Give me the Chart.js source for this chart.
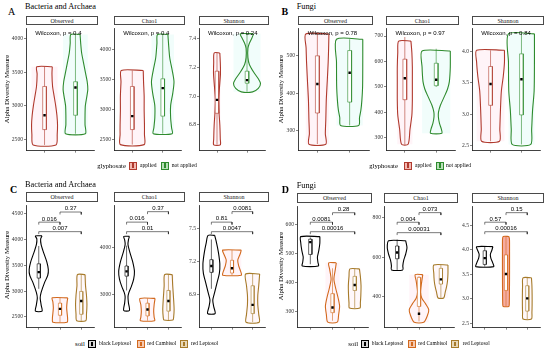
<!DOCTYPE html>
<html><head><meta charset="utf-8">
<script src="https://cdn.jsdelivr.net/npm/chart.js@4.4.1/dist/chart.umd.min.js"></script>
<style>
html,body{margin:0;padding:0;background:#fff;}
body{width:550px;height:351px;position:relative;overflow:hidden;font-family:"Liberation Serif","DejaVu Serif",serif;color:#000;}
.t{position:absolute;white-space:nowrap;line-height:1;transform:translateY(-50%);}
.strip{position:absolute;box-sizing:border-box;border:1px solid #4a4a4a;background:#fff;font-size:6px;line-height:1;display:flex;align-items:center;justify-content:center;color:#1a1a1a;}
.key{position:absolute;box-sizing:border-box;width:8px;height:8px;border:1px solid;transform:translateY(-50%);}
.key i{position:absolute;left:2.2px;top:0.8px;width:1.8px;height:4.4px;box-sizing:border-box;border:0.6px solid;background:#fff;}
.ytitle{position:absolute;white-space:nowrap;line-height:1;font-size:6.8px;transform:translate(-50%,-50%) rotate(-90deg);}
canvas{position:absolute;}
</style></head><body>
<script>
// ===== categories =====
const groupsGly = ['applied', 'not applied'];
const groupsSoil = ['black Leptosol', 'red Cambisol', 'red Leptosol'];
const facetNames = ['Observed', 'Chao1', 'Shannon'];
const pairs = [[1, 2], [2, 3], [1, 3]];

// ===== Panel A : Bacteria and Archaea, glyphosate =====
// violin profile: values (top->bottom) and half widths (category units); box: [low whisker, q1, q3, high whisker, mean]
const A_obs_ticks = [2500, 3000, 3500, 4000];
const A_obs_lim = [2329, 4153];
const A_obs_vy = [[3581,3471,3286,3143,3000,2857,2714,2571,2414],[4061,3929,3786,3643,3500,3357,3243,3143,3000,2857,2714,2581]];
const A_obs_vw = [[0.25,0.24,0.26,0.31,0.36,0.40,0.42,0.41,0.37],[0.15,0.17,0.20,0.26,0.32,0.38,0.40,0.37,0.32,0.31,0.31,0.32]];
const A_obs_box = [[2414,2643,3286,3581,2857],[2581,2857,3357,4061,3271]];

const A_chao_ticks = [2500, 3000, 3500, 4000];
const A_chao_lim = [2307, 4360];
const A_chao_vy = [[3653,3465,3223,2982,2741,2580,2408],[4257,4108,3867,3658,3465,3272,3063,2854,2693,2592]];
const A_chao_vw = [[0.36,0.37,0.39,0.39,0.40,0.40,0.39],[0.17,0.19,0.23,0.31,0.37,0.33,0.26,0.26,0.29,0.31]];
const A_chao_box = [[2408,2661,3384,3653,2886],[2592,2886,3513,4257,3357]];

const A_shan_ticks = [6.8, 7.0, 7.2, 7.4];
const A_shan_tickLabels = ['6.8', '7.0', '7.2', '7.4'];
const A_shan_lim = [6.62, 7.471];
const A_shan_vy = [[7.3,7.233,7.155,7.067,6.98,6.9,6.8,6.7,6.66],[7.433,7.4,7.367,7.333,7.267,7.22,7.167,7.12,7.087,7.053,7.029]];
const A_shan_vw = [[0.094,0.11,0.116,0.085,0.053,0.063,0.094,0.11,0.11],[0.22,0.157,0.079,0.031,0.031,0.079,0.22,0.377,0.45,0.377,0.189]];
const A_shan_box = [[6.66,6.88,7.173,7.3,6.973],[7.029,7.089,7.173,7.433,7.111]];

const A_pvals = ['0.4', '0.4', '0.24'];
const A_wilY = [4081, 4280, 7.438];

// ===== Panel B : Fungi, glyphosate =====
const B_obs_ticks = [300, 400, 500];
const B_obs_lim = [247, 572];
const B_obs_vy = [[557,520,482,431,380,330,292,264],[543,482,418,380,355,335,314]];
const B_obs_vw = [[0.358,0.349,0.335,0.306,0.276,0.262,0.247,0.262],[0.407,0.407,0.402,0.378,0.349,0.306,0.282]];
const B_obs_box = [[264,347,499,557,424],[314,376,513,543,454]];

const B_chao_ticks = [300, 400, 500, 600, 700];
const B_chao_lim = [250, 730];
const B_chao_vy = [[680,634,578,521,447,390,334,275],[641,578,521,491,461,428,402,383,357,334,318]];
const B_chao_vw = [[0.195,0.225,0.24,0.24,0.24,0.225,0.165,0.105],[0.45,0.45,0.42,0.36,0.255,0.135,0.075,0.069,0.105,0.165,0.18]];
const B_chao_box = [[275,450,609,696,534],[500,505,593,650,528]];

const B_shan_ticks = [2.5, 3.0, 3.5, 4.0];
const B_shan_tickLabels = ['2.5', '3.0', '3.5', '4.0'];
const B_shan_lim = [2.421, 4.364];
const B_shan_vy = [[4.015,3.823,3.596,3.368,3.065,2.762,2.57],[4.277,3.823,3.368,3.065,2.762,2.52]];
const B_shan_vw = [[0.45,0.45,0.41,0.35,0.32,0.30,0.29],[0.42,0.42,0.41,0.36,0.33,0.30]];
const B_shan_box = [[2.57,3.141,3.758,4.015,3.479],[2.52,2.989,3.959,4.277,3.555]];

const B_pvals = ['0.78', '0.97', '0.84'];
const B_wilY = [560, 711, 4.288];

// ===== Panel C : Bacteria and Archaea, soil =====
const C_obs_ticks = [2500, 3000, 3500, 4000, 4500];
const C_obs_lim = [2292, 4659];
const C_obs_vy = [[4068,4008,3897,3749,3565,3417,3306,3159,2974,2864,2734,2611],[2869,2790,2679,2568,2476,2397],[3319,3103,2919,2734,2550,2426]];
const C_obs_vw = [[0.156,0.089,0.112,0.223,0.379,0.45,0.424,0.268,0.112,0.067,0.112,0.156],[0.366,0.335,0.313,0.335,0.357,0.335],[0.179,0.201,0.246,0.268,0.246,0.214]];
const C_obs_box = [[3043,3251,3528,3873,3367],[2397,2531,2766,2869,2655],[2426,2550,2993,3319,2808]];
const C_obs_brY = [4334, 4530, 4150];
const C_obs_brP = ['0.016', '0.37', '0.007'];

const C_chao_ticks = [3000, 4000];
const C_chao_lim = [2286, 4904];
const C_chao_vy = [[4239,4163,4067,3898,3694,3490,3327,3163,3041,2945,2816,2653],[2912,2776,2633,2510,2435],[3422,3184,2878,2674,2510,2449]];
const C_chao_vw = [[0.136,0.09,0.068,0.158,0.294,0.376,0.339,0.226,0.113,0.068,0.09,0.136],[0.362,0.317,0.294,0.317,0.339],[0.181,0.204,0.249,0.271,0.249,0.213]];
const C_chao_box = [[3082,3388,3606,4041,3490],[2435,2537,2810,2912,2674],[2449,2639,3082,3422,2857]];
const C_chao_brY = [4545, 4769, 4341];
const C_chao_brP = ['0.016', '0.37', '0.01'];

const C_shan_ticks = [6.9, 7.2, 7.5];
const C_shan_tickLabels = ['6.9', '7.2', '7.5'];
const C_shan_lim = [6.596, 7.711];
const C_shan_vy = [[7.437,7.370,7.283,7.178,7.091,7.004,6.917,6.848,6.787,6.724],[7.303,7.265,7.213,7.161,7.109,7.074],[7.085,6.978,6.891,6.804,6.717,6.645]];
const C_shan_vw = [[0.159,0.25,0.341,0.41,0.387,0.273,0.159,0.068,0.114,0.182],[0.45,0.39,0.28,0.32,0.42,0.45],[0.341,0.296,0.25,0.25,0.296,0.319]];
const C_shan_box = [[6.95,7.1,7.216,7.40,7.158],[7.074,7.094,7.21,7.303,7.137],[6.645,6.724,6.978,7.085,6.804]];
const C_shan_brY = [7.558, 7.654, 7.471];
const C_shan_brP = ['0.81', '0.0081', '0.0047'];

// ===== Panel D : Fungi, soil =====
const D_obs_ticks = [300, 400, 500, 600];
const D_obs_lim = [243, 664];
const D_obs_vy = [[559,537,511,488,471,457],[468,445,411,378,345,317,289,262],[447,421,388,355,329,311]];
const D_obs_vw = [[0.43,0.43,0.384,0.32,0.341,0.363],[0.171,0.128,0.064,0.149,0.256,0.32,0.277,0.213],[0.213,0.256,0.286,0.277,0.256,0.235]];
const D_obs_box = [[463,497,550,556,540],[267,295,361,449,313],[311,372,421,447,391]];
const D_obs_brY = [609, 642, 576];
const D_obs_brP = ['0.0081', '0.28', '0.00016'];

const D_chao_ticks = [400, 600, 800];
const D_chao_lim = [241, 859];
const D_chao_vy = [[684,649,615,585,556,535],[511,479,422,391,362,333,304,268],[560,518,479,450,420,392]];
const D_chao_vw = [[0.39,0.45,0.39,0.303,0.26,0.26],[0.173,0.13,0.065,0.13,0.303,0.445,0.389,0.216],[0.324,0.324,0.303,0.26,0.195,0.13]];
const D_chao_box = [[535,592,657,690,624],[273,349,497,503,312],[392,463,543,560,487]];
const D_chao_brY = [778, 827, 725];
const D_chao_brP = ['0.004', '0.073', '0.00031'];

const D_shan_ticks = [2.5, 3.0, 3.5, 4.0, 4.5];
const D_shan_tickLabels = ['2.5', '3.0', '3.5', '4.0', '4.5'];
const D_shan_lim = [2.408, 4.89];
const D_shan_vy = [[4.065,3.987,3.909,3.831,3.734,3.656],[4.274,4.221,3.948,3.559,3.169,2.896,2.843],[3.428,3.266,3.071,2.876,2.72,2.584]];
const D_shan_vw = [[0.383,0.331,0.264,0.286,0.375,0.419],[0.132,0.163,0.167,0.167,0.163,0.154,0.132],[0.198,0.22,0.229,0.229,0.22,0.198]];
const D_shan_box = [[3.656,3.701,3.982,4.065,3.831],[2.843,3.169,3.896,4.274,3.506],[2.584,2.746,3.266,3.428,3.007]];
const D_shan_brY = [4.566, 4.761, 4.371];
const D_shan_brP = ['0.57', '0.15', '0.00016'];

// ===== styles =====
const colGly = ['#B03A2E', '#2E8B2E'];
const tintGly = ['rgba(255,170,200,0.13)', 'rgba(150,240,225,0.13)'];
const keyFillGly = ['#F2B8B0', '#B8E0B8'];
const colSoil = ['#000000', '#D2691E', '#A67B2A'];
const tintSoil = [null, 'rgba(255,170,200,0.13)', 'rgba(255,190,210,0.10)'];
const keyFillSoil = ['#d8d8d8', '#F6C9B0', '#E8D8B8'];
const SERIF = '"Liberation Serif", "DejaVu Serif", serif';
const SANS = '"Liberation Sans", Arial, sans-serif';

function addText(txt, left, cy, size, extra) {
  const d = document.createElement('div');
  d.className = 't'; d.textContent = txt;
  d.style.left = left + 'px'; d.style.top = cy + 'px'; d.style.fontSize = size + 'px';
  if (extra) Object.assign(d.style, extra);
  document.body.appendChild(d); return d;
}
function addStrip(txt, x0, x1, y0, y1) {
  const d = document.createElement('div');
  d.className = 'strip'; d.textContent = txt;
  const l = Math.round(x0), t = Math.round(y0);
  d.style.left = l + 'px'; d.style.top = t + 'px';
  d.style.width = (Math.round(x1) - l) + 'px'; d.style.height = (Math.round(y1) - t + 1) + 'px';
  document.body.appendChild(d);
}
function addYTitle(cx, cy) {
  const d = document.createElement('div');
  d.className = 'ytitle'; d.textContent = 'Alpha Diversity Measure';
  d.style.left = cx + 'px'; d.style.top = cy + 'px';
  document.body.appendChild(d);
}
function addKey(left, cy, col, fill) {
  const d = document.createElement('div');
  d.className = 'key'; d.style.left = left + 'px'; d.style.top = cy + 'px';
  d.style.borderColor = col; d.style.background = fill;
  const i = document.createElement('i'); i.style.borderColor = col; d.appendChild(i);
  document.body.appendChild(d);
}

function violinPts(pos, vy, vw) {
  const r = vy.map((y, i) => ({ x: pos + vw[i], y }));
  const l = vy.map((y, i) => ({ x: pos - vw[i], y })).reverse();
  return [...r, ...l, r[0]];
}

function annotPlugin(items) {
  return {
    id: 'annot',
    afterDatasetsDraw(chart) {
      const ctx = chart.ctx, xs = chart.scales.x, ys = chart.scales.y;
      ctx.save();
      items.forEach(it => {
        ctx.font = it.font; ctx.fillStyle = '#000';
        ctx.textAlign = it.align; ctx.textBaseline = it.base;
        ctx.fillText(it.text, xs.getPixelForValue(it.x), ys.getPixelForValue(it.y) + (it.dy || 0));
      });
      ctx.restore();
    }
  };
}

function buildFacet(g, vert, f, nG, cols, tints, boxHW, fills) {
  const left = Math.round(g.x0) - 24, top = Math.round(vert.top);
  const w = Math.round(g.x1) - left, h = Math.round(vert.bottom) - top + 3;
  const cv = document.createElement('canvas');
  cv.width = w; cv.height = h;
  cv.style.left = left + 'px'; cv.style.top = top + 'px';
  cv.style.width = w + 'px'; cv.style.height = h + 'px';
  document.body.appendChild(cv);
  const ds = [];
  for (let i = 0; i < nG; i++) {
    const pos = i + 1, vy = f.vy[i], vw = f.vw[i], b = f.box[i], col = cols[i];
    const mw = Math.max(...vw), yt = vy[0], yb = vy[vy.length - 1];
    if (tints[i]) ds.push({ data: [{x:pos-mw,y:yt},{x:pos+mw,y:yt},{x:pos+mw,y:yb},{x:pos-mw,y:yb},{x:pos-mw,y:yt}],
      showLine: true, borderWidth: 0, pointRadius: 0, fill: 'shape', backgroundColor: tints[i], borderColor: 'transparent', order: 10 });
    const fc = fills && fills[i];
    ds.push({ data: violinPts(pos, vy, vw), showLine: true, tension: 0.25, borderColor: col, borderWidth: 1.1,
      pointRadius: 0, fill: fc ? 'shape' : false, backgroundColor: fc || 'transparent', order: 8 });
    ds.push({ data: [{x:pos,y:b[0]},{x:pos,y:b[3]}], showLine: true, borderColor: col, borderWidth: 0.6, pointRadius: 0, order: 6 });
    ds.push({ data: [{x:pos-boxHW,y:b[2]},{x:pos+boxHW,y:b[2]},{x:pos+boxHW,y:b[1]},{x:pos-boxHW,y:b[1]},{x:pos-boxHW,y:b[2]}],
      showLine: true, borderColor: col, borderWidth: 0.6, pointRadius: 0, fill: 'shape', backgroundColor: '#ffffff', order: 5 });
    ds.push({ data: [{x:pos,y:b[4]}], showLine: false, pointStyle: 'rect', pointRadius: 1.7,
      backgroundColor: '#000', borderWidth: 0, order: 2 });
  }
  const items = [];
  if (f.brY) {
    const tip = 0.02 * (f.lim[1] - f.lim[0]);
    f.brY.forEach((y, k) => {
      const [a, bb] = pairs[k];
      ds.push({ data: [{x:a,y:y-tip},{x:a,y},{x:bb,y},{x:bb,y:y-tip}], showLine: true, borderColor: '#222', borderWidth: 0.6, pointRadius: 0, order: 1 });
      items.push({ text: f.brP[k], x: (a + bb) / 2, y, align: 'center', base: 'bottom', dy: -0.3, font: '6px ' + SANS });
    });
  }
  if (f.wil) items.push({ text: 'Wilcoxon, p = ' + f.wil[1], x: 0.7, y: f.wil[0], align: 'left', base: 'middle', font: '6px ' + SANS });
  const xmax = nG + 0.6;
  new Chart(cv, {
    type: 'scatter',
    data: { datasets: ds },
    options: {
      responsive: false, animation: false, devicePixelRatio: 1, events: [],
      layout: { padding: 0 },
      plugins: { legend: { display: false }, tooltip: { enabled: false } },
      scales: {
        x: { type: 'linear', min: 0.4, max: xmax,
          afterBuildTicks: s => { s.ticks = Array.from({length: nG}, (_, i) => ({ value: i + 1 })); },
          afterFit: s => { s.height = 3; },
          ticks: { display: false },
          grid: { display: true, drawOnChartArea: false, drawTicks: true, tickLength: 2, color: '#333', lineWidth: 0.6 },
          border: { display: true, color: '#111', width: 0.8 } },
        y: { type: 'linear', min: f.lim[0], max: f.lim[1],
          afterBuildTicks: s => { s.ticks = f.ticks.map(v => ({ value: v })); },
          afterFit: s => { s.width = 24; },
          ticks: { autoSkip: false, padding: 1, color: '#333', font: { family: SERIF, size: 5.6 },
            callback: (v, i) => f.labels ? f.labels[i] : String(v) },
          grid: { display: true, drawOnChartArea: false, drawTicks: true, tickLength: 2, color: '#333', lineWidth: 0.6 },
          border: { display: true, color: '#111', width: 0.8 } }
      }
    },
    plugins: [annotPlugin(items)]
  });
}

// ===== layout =====
const vertAB = { stripTop: 15.7, top: 24.3, bottom: 152.3 };
const vertC = { stripTop: 191.7, top: 200.7, bottom: 329 };
const vertD = { stripTop: 192.7, top: 201.7, bottom: 329 };
const geoA = [{x0:26,x1:98},{x0:114,x1:185},{x0:199,x1:269}];
const geoB = [{x0:297.7,x1:373.3},{x0:386,x1:459.3},{x0:471.7,x1:544.3}];
const geoC = [{x0:26,x1:97.7},{x0:114.3,x1:185},{x0:199,x1:269.3}];
const geoD = [{x0:296.7,x1:371.7},{x0:384.3,x1:458.3},{x0:471.7,x1:544.3}];

const facA = [
  { ticks: A_obs_ticks, lim: A_obs_lim, vy: A_obs_vy, vw: A_obs_vw, box: A_obs_box, wil: [A_wilY[0], A_pvals[0]] },
  { ticks: A_chao_ticks, lim: A_chao_lim, vy: A_chao_vy, vw: A_chao_vw, box: A_chao_box, wil: [A_wilY[1], A_pvals[1]] },
  { ticks: A_shan_ticks, labels: A_shan_tickLabels, lim: A_shan_lim, vy: A_shan_vy, vw: A_shan_vw, box: A_shan_box, wil: [A_wilY[2], A_pvals[2]] }
];
const facB = [
  { ticks: B_obs_ticks, lim: B_obs_lim, vy: B_obs_vy, vw: B_obs_vw, box: B_obs_box, wil: [B_wilY[0], B_pvals[0]] },
  { ticks: B_chao_ticks, lim: B_chao_lim, vy: B_chao_vy, vw: B_chao_vw, box: B_chao_box, wil: [B_wilY[1], B_pvals[1]] },
  { ticks: B_shan_ticks, labels: B_shan_tickLabels, lim: B_shan_lim, vy: B_shan_vy, vw: B_shan_vw, box: B_shan_box, wil: [B_wilY[2], B_pvals[2]] }
];
const facC = [
  { ticks: C_obs_ticks, lim: C_obs_lim, vy: C_obs_vy, vw: C_obs_vw, box: C_obs_box, brY: C_obs_brY, brP: C_obs_brP },
  { ticks: C_chao_ticks, lim: C_chao_lim, vy: C_chao_vy, vw: C_chao_vw, box: C_chao_box, brY: C_chao_brY, brP: C_chao_brP },
  { ticks: C_shan_ticks, labels: C_shan_tickLabels, lim: C_shan_lim, vy: C_shan_vy, vw: C_shan_vw, box: C_shan_box, brY: C_shan_brY, brP: C_shan_brP }
];
const facD = [
  { ticks: D_obs_ticks, lim: D_obs_lim, vy: D_obs_vy, vw: D_obs_vw, box: D_obs_box, brY: D_obs_brY, brP: D_obs_brP },
  { ticks: D_chao_ticks, lim: D_chao_lim, vy: D_chao_vy, vw: D_chao_vw, box: D_chao_box, brY: D_chao_brY, brP: D_chao_brP },
  { ticks: D_shan_ticks, labels: D_shan_tickLabels, lim: D_shan_lim, vy: D_shan_vy, vw: D_shan_vw, box: D_shan_box, brY: D_shan_brY, brP: D_shan_brP }
];
const fillsD = [null, null, [null, 'rgba(240,125,105,0.6)', null]];

for (let k = 0; k < 3; k++) {
  addStrip(facetNames[k], geoA[k].x0, geoA[k].x1, vertAB.stripTop, vertAB.top);
  buildFacet(geoA[k], vertAB, facA[k], 2, colGly, tintGly, 0.06);
  addStrip(facetNames[k], geoB[k].x0, geoB[k].x1, vertAB.stripTop, vertAB.top);
  buildFacet(geoB[k], vertAB, facB[k], 2, colGly, tintGly, 0.06);
  addStrip(facetNames[k], geoC[k].x0, geoC[k].x1, vertC.stripTop, vertC.top);
  buildFacet(geoC[k], vertC, facC[k], 3, colSoil, tintSoil, 0.075);
  addStrip(facetNames[k], geoD[k].x0, geoD[k].x1, vertD.stripTop, vertD.top);
  buildFacet(geoD[k], vertD, facD[k], 3, colSoil, tintSoil, 0.075, fillsD[k]);
}

// panel letters & titles
addText('A', 8, 12.3, 10);
addText('Bacteria and Archaea', 25, 6.8, 8.3);
addText('B', 281.5, 11.5, 10, { fontWeight: 'bold' });
addText('Fungi', 296.7, 6.5, 8.3);
addText('C', 10, 189.8, 10, { fontWeight: 'bold' });
addText('Bacteria and Archaea', 25, 184.6, 8.3);
addText('D', 281.7, 190, 10, { fontWeight: 'bold' });
addText('Fungi', 296.7, 185.7, 8.3);

// y-axis titles
addYTitle(6.7, 89);
addYTitle(281, 89);
addYTitle(6.7, 265);
addYTitle(280.5, 266);

// legends
addText('glyphosate', 97.3, 165.7, 6.6);
addKey(129.3, 165.7, colGly[0], keyFillGly[0]); addText(groupsGly[0], 140, 165.7, 5.6);
addKey(161.2, 165.7, colGly[1], keyFillGly[1]); addText(groupsGly[1], 171.7, 165.7, 5.6);
addText('glyphosate', 369.3, 165.7, 6.6);
addKey(404.3, 165.7, colGly[0], keyFillGly[0]); addText(groupsGly[0], 415, 165.7, 5.6);
addKey(435.8, 165.7, colGly[1], keyFillGly[1]); addText(groupsGly[1], 446, 165.7, 5.6);

addText('soil', 75, 344, 6.8);
addKey(87.8, 344, colSoil[0], keyFillSoil[0]); addText(groupsSoil[0], 99, 344, 5.4);
addKey(137, 344, colSoil[1], keyFillSoil[1]); addText(groupsSoil[1], 147.3, 344, 5.4);
addKey(180.3, 344, colSoil[2], keyFillSoil[2]); addText(groupsSoil[2], 191, 344, 5.4);
addText('soil', 348.3, 344, 6.8);
addKey(361, 344, colSoil[0], keyFillSoil[0]); addText(groupsSoil[0], 371.7, 344, 5.4);
addKey(408, 344, colSoil[1], keyFillSoil[1]); addText(groupsSoil[1], 418.3, 344, 5.4);
addKey(451.3, 344, colSoil[2], keyFillSoil[2]); addText(groupsSoil[2], 462.7, 344, 5.4);
</script>
</body></html>
